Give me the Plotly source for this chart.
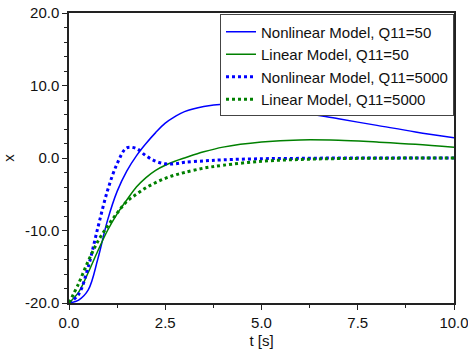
import plotly.graph_objects as go

t = [0, 0.25, 0.5, 0.75, 1.0, 1.25, 1.5, 1.75, 2.0, 2.25, 2.5, 2.75, 3.0, 3.5, 4.0, 5.0, 6.0, 7.0, 8.0, 9.0, 10.0]

nl_50 = [-20, -19.6, -18.2, -13.9, -8.6, -4.6, -1.8, 0.3, 2.0, 3.5, 4.8, 5.7, 6.4, 7.1, 7.4, 7.1, 6.3, 5.4, 4.5, 3.6, 2.8]
lin_50 = [-20, -18.5, -15.8, -12.8, -10.0, -7.7, -5.8, -4.0, -2.7, -1.7, -1.0, -0.45, 0.0, 0.85, 1.5, 2.2, 2.5, 2.45, 2.2, 1.9, 1.5]
nl_5000 = [-20, -18.8, -15.0, -9.6, -4.5, -0.8, 1.4, 1.3, 0.3, -0.45, -0.8, -0.8, -0.6, -0.4, -0.25, -0.1, -0.05, 0.0, 0.0, 0.0, 0.0]
lin_5000 = [-20, -17.3, -14.2, -11.5, -9.4, -7.6, -6.0, -5.0, -4.1, -3.4, -2.8, -2.35, -2.0, -1.4, -1.0, -0.45, -0.2, -0.08, -0.03, -0.01, 0.0]

names = ["Nonlinear Model, Q11=50", "Linear Model, Q11=50",
         "Nonlinear Model, Q11=5000", "Linear Model, Q11=5000"]

x_tickvals = [0, 2.5, 5, 7.5, 10]
x_ticktext = ["0.0", "2.5", "5.0", "7.5", "10.0"]
y_tickvals = [-20, -10, 0, 10, 20]
y_ticktext = ["-20.0", "-10.0", "0.0", "10.0", "20.0"]

FONT = "Liberation Sans, Arial"
FS = 15

fig = go.Figure()
fig.add_trace(go.Scatter(x=t, y=nl_50, mode="lines", name=names[0], line_shape="spline",
                         line=dict(color="#0000ff", width=1.5)))
fig.add_trace(go.Scatter(x=t, y=lin_50, mode="lines", name=names[1], line_shape="spline",
                         line=dict(color="#008000", width=1.5)))
fig.add_trace(go.Scatter(x=t, y=nl_5000, mode="lines", name=names[2], line_shape="spline",
                         line=dict(color="#0000ff", width=3, dash="dot")))
fig.add_trace(go.Scatter(x=t, y=lin_5000, mode="lines", name=names[3], line_shape="spline",
                         line=dict(color="#008000", width=3, dash="dot")))

axis_common = dict(showline=True, linecolor="#222", linewidth=1.5, mirror=True,
                   ticks="outside", ticklen=5, tickcolor="#222", tickwidth=1,
                   showgrid=False, zeroline=False, automargin=False,
                   ticklabeloverflow="allow",
                   tickfont=dict(family=FONT, size=FS, color="#111"))

fig.update_xaxes(range=[0, 10], tickvals=x_tickvals, ticktext=x_ticktext,
                 minor=dict(ticks="outside", ticklen=3, dtick=1.25, tick0=0, tickcolor="#222"),
                 title=dict(text="t [s]", font=dict(family=FONT, size=FS, color="#111"), standoff=6),
                 **axis_common)
fig.update_yaxes(range=[-20, 20], tickvals=y_tickvals, ticktext=y_ticktext,
                 minor=dict(ticks="outside", ticklen=3, dtick=2, tick0=0, tickcolor="#222"),
                 title=dict(text="x", font=dict(family=FONT, size=FS, color="#111"), standoff=12),
                 **axis_common)

fig.update_layout(
    width=468, height=356,
    margin=dict(l=69, r=14, t=13, b=53),
    plot_bgcolor="white", paper_bgcolor="white",
    showlegend=True,
    legend=dict(x=1.0, y=0.995, xanchor="right", yanchor="top",
                bgcolor="white", bordercolor="#444", borderwidth=1,
                entrywidth=205, entrywidthmode="pixels",
                font=dict(family=FONT, size=FS, color="#111")),
)

fig.write_html("out.html", config={"displayModeBar": False},
               post_script="document.body.style.margin='0';document.body.style.padding='0';")
